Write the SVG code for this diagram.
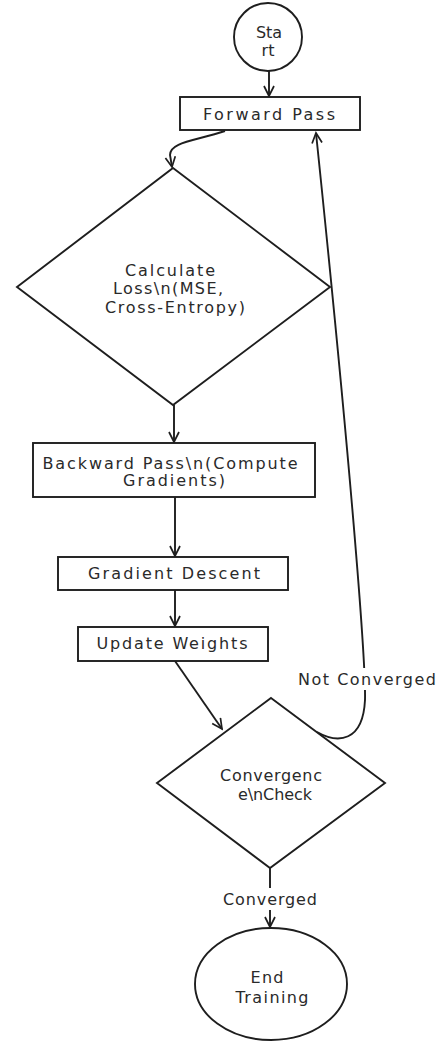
<svg xmlns="http://www.w3.org/2000/svg" width="437" height="1041" viewBox="0 0 437 1041">
<style>
.shape{fill:#ffffff;stroke:#1e1e1e;stroke-width:1.9;}
.edge{fill:none;stroke:#1e1e1e;stroke-width:1.9;}
.lbl{font-family:"DejaVu Sans","Liberation Sans",sans-serif;font-size:16px;fill:#2a2a2a;text-anchor:middle;dominant-baseline:central;}
.bg{fill:#ffffff;stroke:none;}
</style>
<defs>
<marker id="arr" markerUnits="userSpaceOnUse" markerWidth="14" markerHeight="14" refX="11" refY="6" orient="auto">
<path d="M1,1 L11,6 L1,11" fill="none" stroke="#1e1e1e" stroke-width="1.7"/>
</marker>
</defs>
<rect width="437" height="1041" fill="#ffffff"/>
<g id="connectors">
<path class="edge" d="M269,62 L269,96" marker-end="url(#arr)"/>
<path class="edge" d="M225,131 C195,141 170,142 170,155 L172,167" marker-end="url(#arr)"/>
<path class="edge" d="M174,405 L174,442" marker-end="url(#arr)"/>
<path class="edge" d="M175,497 L175,556" marker-end="url(#arr)"/>
<path class="edge" d="M175,590 L175,626" marker-end="url(#arr)"/>
<path class="edge" d="M175,661 L222,729" marker-end="url(#arr)"/>
<path class="edge" d="M317,732 C338,744 363,742 365,700 C366,660 350,460 316,133" marker-end="url(#arr)"/>
<path class="edge" d="M270,868 L270,927" marker-end="url(#arr)"/>
<rect class="bg" x="296" y="668" width="141" height="22"/>
<text class="lbl" x="367" y="679" textLength="138">Not Converged</text>
<rect class="bg" x="221" y="888" width="98" height="22"/>
<text class="lbl" x="270" y="899" textLength="94">Converged</text>
</g>
<g id="start">
<circle class="shape" cx="268" cy="37" r="34"/>
<text class="lbl" x="269" y="32">Sta</text>
<text class="lbl" x="268" y="50">rt</text>
</g>
<g id="forward">
<rect class="shape" x="180" y="97" width="180" height="33"/>
<text class="lbl" x="269" y="114" textLength="132">Forward Pass</text>
</g>
<g id="loss">
<polygon class="shape" points="173,168 330,287 173,405 17,287"/>
<text class="lbl" x="170" y="270" textLength="90">Calculate</text>
<text class="lbl" x="168" y="288" textLength="110">Loss\n(MSE,</text>
<text class="lbl" x="175" y="307" textLength="140">Cross-Entropy)</text>
</g>
<g id="backward">
<rect class="shape" x="33" y="443" width="282" height="54"/>
<text class="lbl" x="170" y="463" textLength="255">Backward Pass\n(Compute</text>
<text class="lbl" x="174" y="480" textLength="102">Gradients)</text>
</g>
<g id="gradient">
<rect class="shape" x="58" y="557" width="230" height="33"/>
<text class="lbl" x="174" y="573" textLength="172">Gradient Descent</text>
</g>
<g id="update">
<rect class="shape" x="78" y="627" width="190" height="34"/>
<text class="lbl" x="172" y="643" textLength="151">Update Weights</text>
</g>
<g id="convergence">
<polygon class="shape" points="271,698 385,783 270,868 157,783"/>
<text class="lbl" x="271" y="775" textLength="102">Convergenc</text>
<text class="lbl" x="275" y="794" textLength="74">e\nCheck</text>
</g>
<g id="end">
<ellipse class="shape" cx="271" cy="984" rx="76" ry="56"/>
<text class="lbl" x="267" y="977" textLength="33">End</text>
<text class="lbl" x="272" y="997" textLength="73">Training</text>
</g>
</svg>
